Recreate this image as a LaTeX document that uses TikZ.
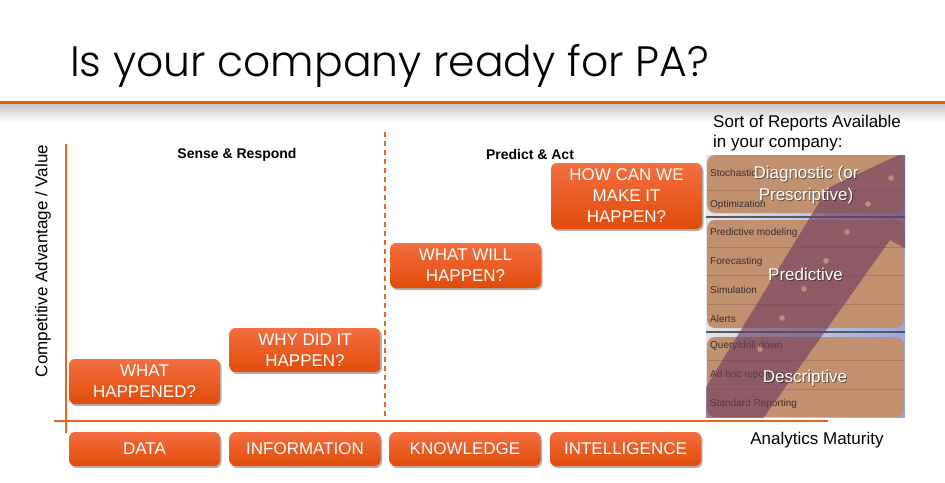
\documentclass[tikz,border=0pt]{standalone}
\usepackage{fontspec}
\setmainfont{Liberation Sans}
\newfontfamily\titlefont{Poppins Light}
\usetikzlibrary{shadows}
\definecolor{boxtop}{HTML}{F36E40}
\definecolor{boxbot}{HTML}{E04C0A}
\definecolor{axisor}{HTML}{E8661E}
\definecolor{heador}{HTML}{E35A13}
\definecolor{panel}{HTML}{C0906F}
\definecolor{rowline}{HTML}{A87C62}
\definecolor{arrowc}{HTML}{6E3C5F}
\definecolor{dotc}{HTML}{D2A184}
\definecolor{imgL}{HTML}{E4E5EC}
\definecolor{imgR}{HTML}{98A6E6}
\definecolor{rowtext}{HTML}{3A3030}
\begin{document}
\begin{tikzpicture}[x=1pt,y=-1pt,
  qbox/.style={rounded corners=6pt, top color=boxtop, bottom color=boxbot, text=white,
    font=\fontsize{17}{21}\selectfont, align=center, inner sep=0pt, minimum width=151,
    drop shadow={shadow xshift=1.5pt, shadow yshift=-2pt, opacity=0.3, fill=black}},
  axis/.style={draw=axisor, line width=1.2pt},
  phase/.style={font=\fontsize{14}{16}\selectfont\bfseries},
  lbl/.style={font=\fontsize{17}{20}\selectfont},
  rowt/.style={anchor=west, text=rowtext, font=\fontsize{10}{12}\selectfont, inner sep=0pt},
  panelbox/.style={fill=panel, rounded corners=8pt},
  biglbl/.style={text=white, font=\fontsize{17}{22}\selectfont, align=center},
  biglblsh/.style={text=black, opacity=0.45, font=\fontsize{17}{22}\selectfont, align=center}]
\useasboundingbox (0,0) rectangle (945,482);
\fill[white] (0,0) rectangle (945,482);

% title and header line
\node[anchor=base west, inner sep=0pt, font=\titlefont\fontsize{42.5}{50}\selectfont] (title) at (70,76) {Is your company ready for PA?};
\shade[top color=black!22, bottom color=white] (0,104) rectangle (945,122);
\draw[heador, line width=3.5pt] (0,102.5) -- (945,102.5);

% axes
\coordinate (yTop) at (66,144);
\coordinate (yBot) at (66,433);
\coordinate (xL) at (54,421);
\coordinate (xR) at (828,421);
\coordinate (dTop) at (385,132);
\coordinate (dBot) at (385,420);
\draw[axis] (yTop) -- (yBot);
\draw[axis] (xL) -- (xR);
\draw[draw=axisor, line width=1.5pt, dash pattern=on 5pt off 4pt] (dTop) -- (dBot);

\node[lbl, rotate=90] (yl) at (43,261) {Competitive Advantage / Value};
\node[lbl] (xl) at (817,440) {Analytics Maturity};
\node[phase] (sr) at (237,155) {Sense \& Respond};
\node[phase] (pa) at (530,154) {Predict \& Act};

% question boxes
\node[qbox, minimum height=45] (q1) at (144.5,381.5) {WHAT\\HAPPENED?};
\node[qbox, minimum height=44] (q2) at (305,350) {WHY DID IT\\HAPPEN?};
\node[qbox, minimum height=45] (q3) at (465.5,265.5) {WHAT WILL\\HAPPEN?};
\node[qbox, minimum height=66] (q4) at (626.5,196) {HOW CAN WE\\MAKE IT\\HAPPEN?};

% stage boxes
\node[qbox, minimum height=34] (s1) at (144.5,449) {DATA};
\node[qbox, minimum height=34] (s2) at (305,449) {INFORMATION};
\node[qbox, minimum height=34] (s3) at (465,449) {KNOWLEDGE};
\node[qbox, minimum height=34] (s4) at (625.5,449) {INTELLIGENCE};

% right side header
\node[lbl, anchor=north west, align=left, inner sep=0pt] (hdr) at (713,115) {Sort of Reports Available\\in your company:};

% reports picture
\begin{scope}
\clip (706,155) rectangle (905,417);
\shade[left color=imgL, right color=imgR] (706,155) rectangle (905,417);
\draw[black!65, line width=1.3pt] (706,217) -- (905,217);
\draw[black!65, line width=1.3pt] (706,332) -- (905,332);
\fill[panelbox] (707,155) rectangle (904,213);
\fill[panelbox] (707,220) rectangle (904,328);
\fill[panelbox] (707,337) rectangle (904,417);
\foreach \yy in {190,247,275,304,360,389}{
  \draw[rowline, line width=0.6pt] (707,\yy) -- (904,\yy);
}
\node[rowt] (r1) at (710,173) {Stochastic};
\node[rowt] (r2) at (710,205) {Optimization};
\node[rowt] (r3) at (710,233) {Predictive modeling};
\node[rowt] (r4) at (710,262) {Forecasting};
\node[rowt] (r5) at (710,290) {Simulation};
\node[rowt] (r6) at (710,319) {Alerts};
\node[rowt] (r7) at (710,346) {Query/drill down};
\node[rowt] (r8) at (710,375) {Ad hoc reporting};
\node[rowt] (r9) at (710,404) {Standard Reporting};
% big arrow
\fill[arrowc, opacity=0.62] (600,560) -- (828,188) -- (935,138) -- (940,268) -- (890,240) -- (691,520) -- cycle;
\foreach \px/\py in {891/178,868/204,847/232,826/261,804/289,782/318,760/349}{
  \fill[dotc, opacity=0.7] (\px,\py) circle (2.8pt);
}
\end{scope}

% big labels with shadow
\node[biglblsh] at (807,186) {Diagnostic (or\\Prescriptive)};
\node[biglbl] (l1) at (806,185) {Diagnostic (or\\Prescriptive)};
\node[biglblsh] at (806.5,275) {Predictive};
\node[biglbl] (l2) at (805.5,274) {Predictive};
\node[biglblsh] at (806,379) {Descriptive};
\node[biglbl] (l3) at (805,378) {Descriptive};
\end{tikzpicture}
\end{document}
